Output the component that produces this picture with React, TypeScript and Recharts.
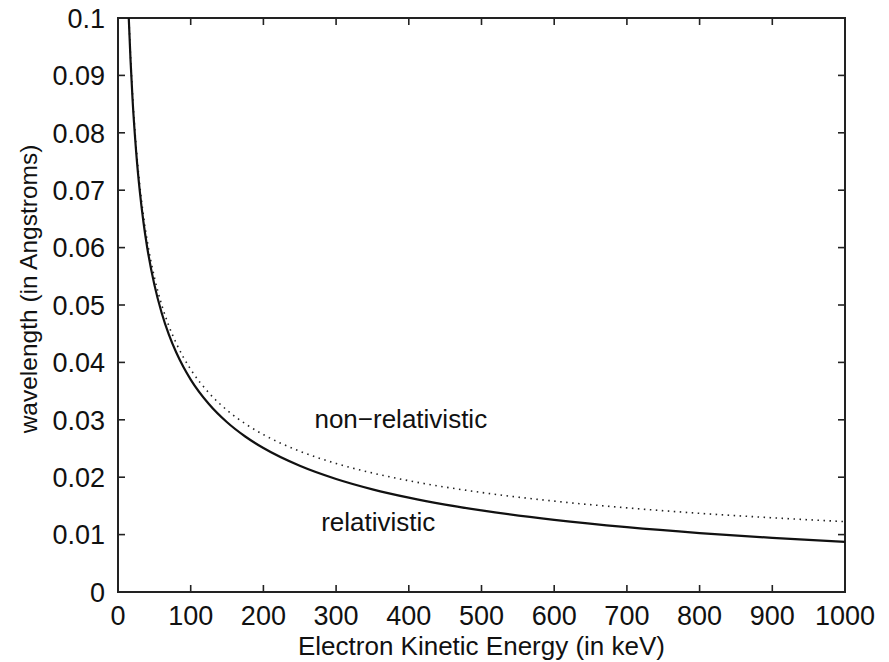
import { LineChart, Line, XAxis, YAxis, ReferenceDot, ReferenceArea, ReferenceLine, Label } from 'recharts';

// electron kinetic energy (keV) vs de Broglie wavelength (Angstrom)
const energy = [14, 15, 20, 25, 30, 35, 40, 50, 60, 70, 80, 90, 100, 125, 150, 175, 200, 250, 300, 350, 400, 450, 500, 600, 700, 800, 900, 1000];
const relativistic = [0.10295, 0.09941, 0.08588, 0.07664, 0.06979, 0.06446, 0.06015, 0.05355, 0.04866, 0.04484, 0.04176, 0.03919, 0.03701, 0.03275, 0.02957, 0.02709, 0.02508, 0.02199, 0.01969, 0.01789, 0.01644, 0.01523, 0.01421, 0.01257, 0.01129, 0.01027, 0.00943, 0.00872];
const nonRelativistic = [0.10365, 0.10014, 0.08672, 0.07757, 0.07081, 0.06556, 0.06132, 0.05485, 0.05007, 0.04635, 0.04336, 0.04088, 0.03878, 0.03469, 0.03167, 0.02932, 0.02742, 0.02453, 0.02239, 0.02073, 0.01939, 0.01828, 0.01734, 0.01583, 0.01466, 0.01371, 0.01293, 0.01226];

const xTicks = [0, 100, 200, 300, 400, 500, 600, 700, 800, 900, 1000];
const yTicks = [0, 0.01, 0.02, 0.03, 0.04, 0.05, 0.06, 0.07, 0.08, 0.09, 0.1];

const data = energy.map((e, i) => ({ e, rel: relativistic[i], nonrel: nonRelativistic[i] }));

const X_MAX = 1000;
const Y_MAX = 0.1;
const PLOT_W = 727;
const PLOT_H = 574;
// inward tick length (about 7px) expressed in axis units
const TICK_PX = 7;
const tickDx = (X_MAX * TICK_PX) / PLOT_W;
const tickDy = (Y_MAX * TICK_PX) / PLOT_H;

const FONT = '"Liberation Sans", Arial, Helvetica, sans-serif';
const TICK_FS = 27;
const INK = '#111';
const FRAME = '#222';

const BottomTick = ({ x, y, payload }: any) => (
  <text x={x} y={y + 31} textAnchor="middle" fontFamily={FONT} fontSize={TICK_FS} fill={INK}>
    {payload.value}
  </text>
);

const LeftTick = ({ x, y, payload }: any) => (
  <text x={x - 11} y={y} dy="0.36em" textAnchor="end" fontFamily={FONT} fontSize={TICK_FS} fill={INK}>
    {payload.value}
  </text>
);

const YTitle = ({ viewBox }: any) => {
  const cx = viewBox.x + 28;
  const cy = viewBox.y + viewBox.height / 2 - 16;
  return (
    <text
      x={cx}
      y={cy}
      transform={`rotate(-90 ${cx} ${cy})`}
      textAnchor="middle"
      dominantBaseline="central"
      fontFamily={FONT}
      fontSize={24.5}
      fill={INK}
    >
      wavelength (in Angstroms)
    </text>
  );
};

export default function App() {
  const tickStroke = { stroke: FRAME, strokeWidth: 1.6 };
  return (
    <div style={{ position: 'absolute', left: 0, top: 0, background: '#fff' }}>
      <LineChart width={889} height={662} data={data} margin={{ top: 18, right: 44, bottom: 0, left: 0 }}>
        <XAxis
          dataKey="e"
          type="number"
          domain={[0, X_MAX]}
          ticks={xTicks}
          height={70}
          tickSize={0}
          tickLine={false}
          tick={<BottomTick />}
          axisLine={false}
          interval={0}
        >
          <Label
            value="Electron Kinetic Energy (in keV)"
            position="insideBottom"
            offset={7}
            style={{ fontFamily: FONT, fontSize: 26, fill: INK }}
          />
        </XAxis>
        <YAxis
          type="number"
          domain={[0, Y_MAX]}
          ticks={yTicks}
          width={118}
          tickSize={0}
          tickLine={false}
          tick={<LeftTick />}
          axisLine={false}
          allowDataOverflow
          interval={0}
        >
          <Label content={<YTitle />} />
        </YAxis>

        <Line
          type="monotone"
          dataKey="nonrel"
          stroke="#222"
          strokeWidth={1.6}
          strokeDasharray="1.5 4.5"
          dot={false}
          isAnimationActive={false}
        />
        <Line
          type="monotone"
          dataKey="rel"
          stroke={INK}
          strokeWidth={2.2}
          dot={false}
          isAnimationActive={false}
        />

        {/* box frame */}
        <ReferenceArea x1={0} x2={X_MAX} y1={0} y2={Y_MAX} fill="none" fillOpacity={0} stroke={FRAME} strokeWidth={2} ifOverflow="visible" />

        {/* inward ticks on all four sides */}
        {xTicks.map((t) => (
          <ReferenceLine key={`b${t}`} segment={[{ x: t, y: 0 }, { x: t, y: tickDy }]} {...tickStroke} ifOverflow="visible" />
        ))}
        {xTicks.map((t) => (
          <ReferenceLine key={`t${t}`} segment={[{ x: t, y: Y_MAX }, { x: t, y: Y_MAX - tickDy }]} {...tickStroke} ifOverflow="visible" />
        ))}
        {yTicks.map((t) => (
          <ReferenceLine key={`l${t}`} segment={[{ x: 0, y: t }, { x: tickDx, y: t }]} {...tickStroke} ifOverflow="visible" />
        ))}
        {yTicks.map((t) => (
          <ReferenceLine key={`r${t}`} segment={[{ x: X_MAX, y: t }, { x: X_MAX - tickDx, y: t }]} {...tickStroke} ifOverflow="visible" />
        ))}

        <ReferenceDot x={389} y={0.0301} r={0} fill="none" stroke="none">
          <Label value="non−relativistic" position="center" style={{ fontFamily: FONT, fontSize: 26, fill: INK }} />
        </ReferenceDot>
        <ReferenceDot x={358} y={0.0122} r={0} fill="none" stroke="none">
          <Label value="relativistic" position="center" style={{ fontFamily: FONT, fontSize: 26, fill: INK }} />
        </ReferenceDot>
      </LineChart>
    </div>
  );
}
